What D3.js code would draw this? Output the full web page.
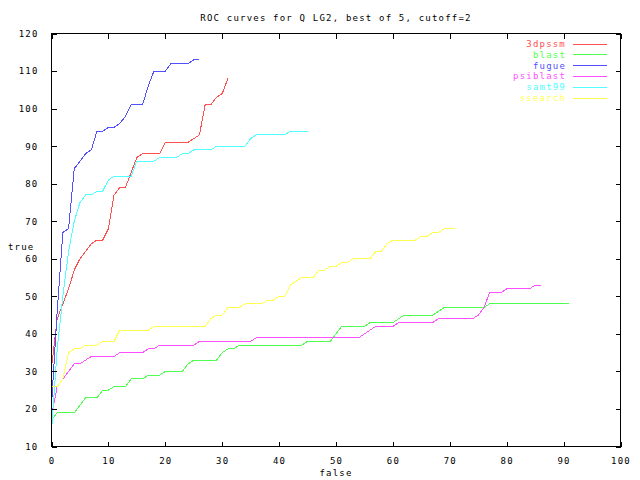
<!DOCTYPE html>
<html>
<head>
<meta charset="utf-8">
<script src="https://cdn.jsdelivr.net/npm/d3@7"></script>
<style>
  html, body { margin: 0; padding: 0; background: #fff; }
  svg { display: block; }
  text { font-family: "DejaVu Sans Mono", "Liberation Mono", monospace; font-size: 9px; letter-spacing: 1.2px; fill: #000; }
</style>
</head>
<body>
<svg id="chart" width="640" height="480"></svg>
<script>
const title = "ROC curves for Q LG2, best of 5, cutoff=2";
const xLabel = "false";
const yLabel = "true";
const xTicks = [0,10,20,30,40,50,60,70,80,90,100];
const yTicks = [10,20,30,40,50,60,70,80,90,100,110,120];
const seriesNames = ["3dpssm","blast","fugue","psiblast","samt99","ssearch"];
const seriesColors = ["#ff5050","#50ff50","#5050ff","#ff50ff","#50ffff","#ffff50"];

// [false, true] pairs
const s3dpssm = [[0,31],[1,44],[2,48],[3,52],[4,57],[5,60],[6,62],[7,64],[8,65],[9,65],[10,68],[11,77],[12,79],[13,79],[14,83],[15,87],[16,88],[19,88],[20,91],[24,91],[25,92],[26,93],[27,101],[28,101],[29,103],[30,104],[31,108]];
const sBlast = [[0,17],[1,19],[4,19],[5,21],[6,23],[8,23],[9,25],[10,25],[11,26],[13,26],[14,28],[16,28],[17,29],[19,29],[20,30],[23,30],[24,32],[25,33],[29,33],[30,35],[31,36],[32,36],[33,37],[44,37],[45,38],[49,38],[50,40],[51,42],[55,42],[56,43],[60,43],[61,44],[62,45],[67,45],[68,46],[69,47],[76,47],[77,48],[91,48]];
const sFugue = [[0,21],[1,46],[2,67],[3,68],[4,84],[5,86],[6,88],[7,89],[8,94],[9,94],[10,95],[11,95],[12,96],[13,98],[14,101],[16,101],[17,106],[18,110],[20,110],[21,112],[24,112],[25,113],[26,113]];
const sPsiblast = [[0,18],[1,26],[2,28],[3,30],[4,32],[5,32],[6,33],[7,34],[11,34],[12,35],[16,35],[17,36],[18,36],[19,37],[25,37],[26,38],[35,38],[36,39],[54,39],[55,40],[56,41],[57,42],[60,42],[61,43],[67,43],[68,44],[74,44],[75,45],[76,47],[77,51],[79,51],[80,52],[84,52],[85,53],[86,53]];
const sSamt99 = [[0,14],[1,36],[2,50],[3,62],[4,70],[5,75],[6,77],[7,77],[8,78],[9,78],[10,81],[11,82],[14,82],[15,86],[18,86],[19,87],[22,87],[23,88],[24,88],[25,89],[28,89],[29,90],[34,90],[35,92],[36,93],[41,93],[42,94],[45,94]];
const sSsearch = [[0,26],[1,26],[2,28],[3,35],[4,36],[5,36],[6,37],[8,37],[9,38],[11,38],[12,41],[13,41],[17,41],[18,42],[27,42],[28,44],[29,45],[30,45],[31,47],[33,47],[34,48],[37,48],[38,49],[39,49],[40,50],[41,50],[42,53],[43,54],[44,55],[46,55],[47,57],[48,57],[49,58],[50,58],[51,59],[52,59],[53,60],[56,60],[57,62],[58,62],[59,64],[60,65],[64,65],[65,66],[66,66],[67,67],[68,67],[69,68],[71,68]];
const seriesData = [s3dpssm, sBlast, sFugue, sPsiblast, sSamt99, sSsearch];

const svg = d3.select("#chart");
const L = 51.5, R = 620.5, T = 33.5, B = 446.5;
const x = d3.scaleLinear().domain([0,100]).range([L,R]);
const y = d3.scaleLinear().domain([10,120]).range([B,T]);

// data lines
const line = d3.line().x(d => x(d[0])).y(d => y(d[1]));
seriesData.forEach((data, i) => {
  svg.append("path").datum(data)
    .attr("d", line)
    .attr("fill", "none")
    .attr("stroke", seriesColors[i])
    .attr("stroke-width", 1)
    .attr("shape-rendering", "crispEdges");
});

// axes with mirrored inward ticks
const tl = 5;
const gB = svg.append("g").attr("transform", `translate(0,${B})`)
  .call(d3.axisBottom(x).tickValues(xTicks).tickSizeInner(-tl).tickSizeOuter(0).tickPadding(11).tickFormat(d3.format("d")));
const gT = svg.append("g").attr("transform", `translate(0,${T})`)
  .call(d3.axisTop(x).tickValues(xTicks).tickSizeInner(-tl).tickSizeOuter(0).tickFormat(""));
const gL = svg.append("g").attr("transform", `translate(${L},0)`)
  .call(d3.axisLeft(y).tickValues(yTicks).tickSizeInner(-tl).tickSizeOuter(0).tickPadding(13).tickFormat(d3.format("d")));
const gR = svg.append("g").attr("transform", `translate(${R},0)`)
  .call(d3.axisRight(y).tickValues(yTicks).tickSizeInner(-tl).tickSizeOuter(0).tickFormat(""));
[gB,gT,gL,gR].forEach(g => {
  g.selectAll(".domain").remove();
  g.selectAll("line").attr("stroke","#000").attr("shape-rendering","crispEdges");
  g.selectAll("text").attr("font-family", null).attr("font-size", null).attr("fill","#000");
});

svg.append("rect").attr("x", L).attr("y", T).attr("width", R-L).attr("height", B-T)
  .attr("fill","none").attr("stroke","#000").attr("shape-rendering","crispEdges");

// titles
svg.append("text").attr("x", 336).attr("y", 21).attr("text-anchor","middle").text(title);
svg.append("text").attr("x", 336).attr("y", 476).attr("text-anchor","middle").text(xLabel);
svg.append("text").attr("x", 8).attr("y", 250).text(yLabel);

// legend
const lg = svg.append("g");
seriesNames.forEach((n, i) => {
  const yy = 43.5 + i * 10.8;
  lg.append("text").attr("x", 566).attr("y", yy + 3.5).attr("text-anchor","end")
    .attr("fill", seriesColors[i]).style("fill", seriesColors[i]).text(n);
  lg.append("line").attr("x1", 573).attr("x2", 607).attr("y1", Math.round(yy)+0.5).attr("y2", Math.round(yy)+0.5)
    .attr("stroke", seriesColors[i]).attr("shape-rendering","crispEdges");
});
</script>
</body>
</html>
